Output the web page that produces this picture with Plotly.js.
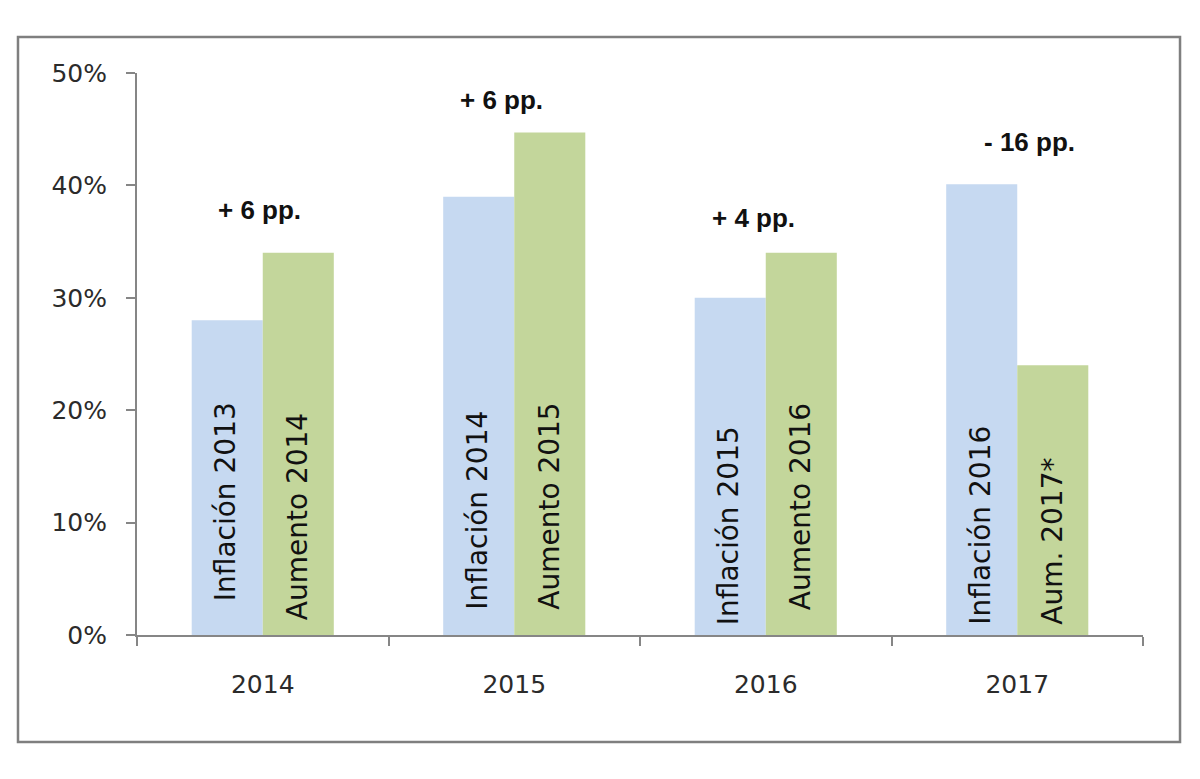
<!DOCTYPE html>
<html>
<head>
<meta charset="utf-8">
<script src="https://cdn.plot.ly/plotly-3.0.1.min.js"></script>
<style>html,body{margin:0;padding:0;background:#fff;}#chart{width:1200px;height:779px;}</style>
</head>
<body>
<div id="chart"></div>
<script>
const categories = ["2014", "2015", "2016", "2017"];
const inflationValues = [28.0, 39.0, 30.0, 40.1];
const raiseValues = [34.0, 44.7, 34.0, 24.0];
const inflationLabels = ["Inflación 2013", "Inflación 2014", "Inflación 2015", "Inflación 2016"];
const raiseLabels = ["Aumento 2014", "Aumento 2015", "Aumento 2016", "Aum. 2017*"];
const deltaLabels = ["+ 6 pp.", "+ 6 pp.", "+ 4 pp.", "- 16 pp."];
const deltaY = [37.8, 47.6, 37.1, 43.9];

const blue = "#c6d9f1";
const green = "#c3d69b";

const traces = [
  {type: "bar", x: categories, y: inflationValues, name: "Inflación",
   marker: {color: blue}, hoverinfo: "skip"},
  {type: "bar", x: categories, y: raiseValues, name: "Aumento",
   marker: {color: green}, hoverinfo: "skip"}
];

// layout-only offsets (pixels) for the hand-placed labels
const inflLift = [32, 23, 8, 8];
const raiseLift = [13, 23, 23, 8];
const deltaShift = [-3, -13, -12, 12];

const annotations = [];
const barFont = {family: "DejaVu Sans, Verdana, sans-serif", size: 28, color: "#111"};
categories.forEach((c, i) => {
  // category axes place annotations by category index
  annotations.push({x: i, y: 0, xref: "x", yref: "y", text: inflationLabels[i], textangle: -90,
    showarrow: false, xanchor: "center", yanchor: "bottom", xshift: -37, yshift: inflLift[i], font: barFont});
  annotations.push({x: i, y: 0, xref: "x", yref: "y", text: raiseLabels[i], textangle: -90,
    showarrow: false, xanchor: "center", yanchor: "bottom", xshift: 35, yshift: raiseLift[i], font: barFont});
  annotations.push({x: i, y: deltaY[i], xref: "x", yref: "y", text: "<b>" + deltaLabels[i] + "</b>",
    showarrow: false, xanchor: "center", yanchor: "middle", xshift: deltaShift[i],
    font: {family: "Liberation Sans Narrow, Liberation Sans, Arial, sans-serif", size: 26, color: "#111"}});
});

const layout = {
  width: 1200, height: 779,
  margin: {l: 137, r: 57, t: 73, b: 144},
  paper_bgcolor: "#fff", plot_bgcolor: "#fff",
  showlegend: false,
  barmode: "group", bargap: 0.435, bargroupgap: 0,
  font: {family: "DejaVu Sans, Verdana, sans-serif", color: "#2b2b2b"},
  xaxis: {
    type: "category", range: [-0.5, 3.5], autorange: false, showline: true, linecolor: "#868686", linewidth: 2,
    ticks: "outside", tickson: "boundaries", ticklen: 9, tickcolor: "#868686", tickwidth: 2,
    ticklabelstandoff: 26,
    tickfont: {size: 25, color: "#2b2b2b"}, showgrid: false, zeroline: false, fixedrange: true
  },
  yaxis: {
    range: [0, 50], autorange: false, dtick: 10, ticksuffix: "%", showline: true, linecolor: "#868686", linewidth: 2,
    ticks: "outside", ticklen: 9, tickcolor: "#868686", tickwidth: 2,
    ticklabelstandoff: 14,
    tickfont: {size: 25, color: "#2b2b2b"}, showgrid: false, zeroline: false, fixedrange: true
  },
  annotations: annotations,
  shapes: [{type: "rect", xref: "paper", yref: "paper", x0: -0.1183, x1: 1.0368, y0: -0.1904, y1: 1.064,
    line: {color: "#7f7f7f", width: 2.5}, fillcolor: "rgba(0,0,0,0)"}]
};

Plotly.newPlot("chart", traces, layout, {displayModeBar: false, staticPlot: true});
</script>
</body>
</html>
